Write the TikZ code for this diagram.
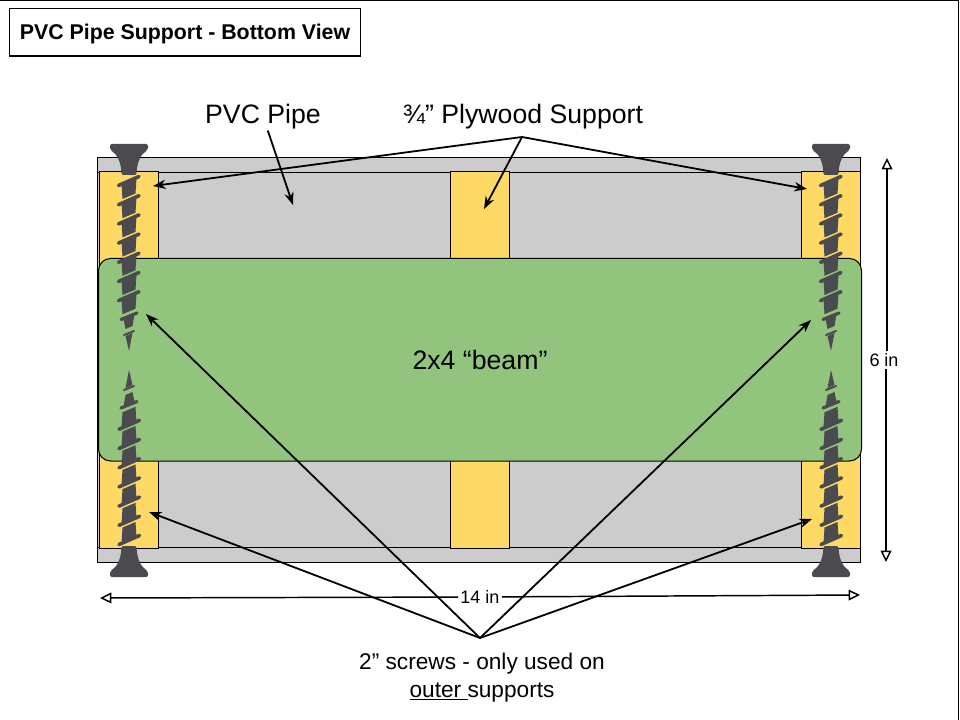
\documentclass[tikz,border=0pt]{standalone}
\usepackage{fontspec}
\setmainfont{Liberation Sans}
\usetikzlibrary{arrows.meta}

\tikzset{
  partbox/.style={draw=black,line width=0.75pt},
  leader/.style={draw=black,line width=1.35pt,-{Stealth[length=9.5pt,width=7pt]}},
  dimend/.style={draw=black,line width=1.1pt,-{Triangle[open,length=8.5pt,width=8pt,fill=white]}},
  biglabel/.style={font=\fontsize{20}{21.5}\selectfont,align=center,inner sep=1pt},
  notelabel/.style={font=\fontsize{17}{21}\selectfont,align=center,inner sep=1pt},
  dimlabel/.style={font=\fontsize{13.5}{15}\selectfont,inner sep=1.5pt},
  screw/.pic={
    \fill[screwgrey,rounded corners=1.5pt] (-19,0) -- (19,0) -- (19,6) .. controls (12,10) and (8,18) .. (7.5,31) -- (-7.5,31) .. controls (-8,18) and (-12,10) .. (-19,6) -- cycle;
    \foreach \yy in {37,56.2,75.4,94.6,113.8,133,152.2} {
      \draw[screwgrey,line width=2.7pt,line cap=round] (-10.5,\yy+4.5) -- (10,\yy-4.5);
      \fill[screwgrey] (-7.5,\yy+3) -- (7.5,\yy-3) -- (6.5,\yy+12.5) -- (-6.5,\yy+18) -- cycle;
    }
    % last turns get thinner towards the point
    \draw[screwgrey,line width=2.4pt,line cap=round] (-8,175.5) -- (8,169);
    \fill[screwgrey] (-5.5,175) -- (5.5,170) -- (3.5,182) -- (-3.5,185) -- cycle;
    \draw[screwgrey,line width=1.5pt,line cap=round] (-5,191) -- (5,187);
    \fill[screwgrey] (-3.5,192) -- (3.5,189) -- (0,207) -- cycle;
  }
}
\definecolor{pipegrey}{HTML}{CCCCCC}
\definecolor{plyyellow}{HTML}{FFD966}
\definecolor{beamgreen}{HTML}{93C47D}
\definecolor{screwgrey}{HTML}{4A4A4F}

\begin{document}
\begin{tikzpicture}[x=0.75pt,y=0.75pt,yscale=-1,xscale=1]
\useasboundingbox (0,0) rectangle (960,720);
\draw[line width=1.2pt] (0,0) -- (958.5,0) -- (958.5,720);

% pipe
\draw[partbox,fill=pipegrey] (97.5,157.5) rectangle (860.5,562.5);
\draw[partbox] (97.5,172.7) -- (860.5,172.7);
\draw[partbox] (97.5,547) -- (860.5,547);

% plywood supports
\draw[partbox,fill=plyyellow] (99.5,171.5) rectangle (158.5,548);
\draw[partbox,fill=plyyellow] (450.5,171.5) rectangle (509.5,548);
\draw[partbox,fill=plyyellow] (801.7,171.5) rectangle (860.5,548);

% beam
\draw[partbox,fill=beamgreen,rounded corners=9pt] (98.5,258.5) rectangle (861.5,461);
\node[biglabel] (beamlabel) at (480,360) {2x4 “beam”};

% screws
\pic[transform shape] at (129,144) {screw};
\pic[transform shape] at (831,144) {screw};
\pic[transform shape,rotate=180] at (129,577) {screw};
\pic[transform shape,rotate=180] at (831,577) {screw};

% labels
\node[draw=black,line width=1pt,minimum width=263pt,minimum height=35.5pt,text depth=1.5pt,font=\fontsize{16}{18}\selectfont\bfseries] (titlebox) at (185,32.5) {PVC Pipe Support - Bottom View};
\node[biglabel] (pipelabel) at (263,116.5) {PVC Pipe};
\node[biglabel] (plylabel) at (523,116.5) {¾” Plywood Support};
\node[notelabel] (screwlabel) at (482,677.5) {2” screws - only used on\\\underline{outer }supports};
\node[dimlabel] (heightlabel) at (884,360) {6 in};
\node[dimlabel] (widthlabel) at (480,597) {14 in};

\coordinate (pipetip) at (293,205);
\coordinate (plyhub) at (522,137);
\coordinate (plytipL) at (153,186);
\coordinate (plytipM) at (484,209);
\coordinate (plytipR) at (807,189);
\coordinate (screwhub) at (480,638);
\coordinate (screwtipA) at (146,314);
\coordinate (screwtipB) at (149,512);
\coordinate (screwtipC) at (811,320);
\coordinate (screwtipD) at (812,519);
\coordinate (dimtop) at (887,158);
\coordinate (dimbottom) at (886,562);
\coordinate (dimleft) at (100,598);
\coordinate (dimright) at (860,595);

\draw[leader] (pipelabel) -- (pipetip);
\draw[leader] (plyhub) -- (plytipL);
\draw[leader] (plyhub) -- (plytipM);
\draw[leader] (plyhub) -- (plytipR);
\draw[leader] (screwhub) -- (screwtipA);
\draw[leader] (screwhub) -- (screwtipB);
\draw[leader] (screwhub) -- (screwtipC);
\draw[leader] (screwhub) -- (screwtipD);
\draw[dimend] (heightlabel.north -| dimtop) -- (dimtop);
\draw[dimend] (heightlabel.south -| dimbottom) -- (dimbottom);
\draw[dimend] (widthlabel) -- (dimleft);
\draw[dimend] (widthlabel) -- (dimright);
\end{tikzpicture}
\end{document}
